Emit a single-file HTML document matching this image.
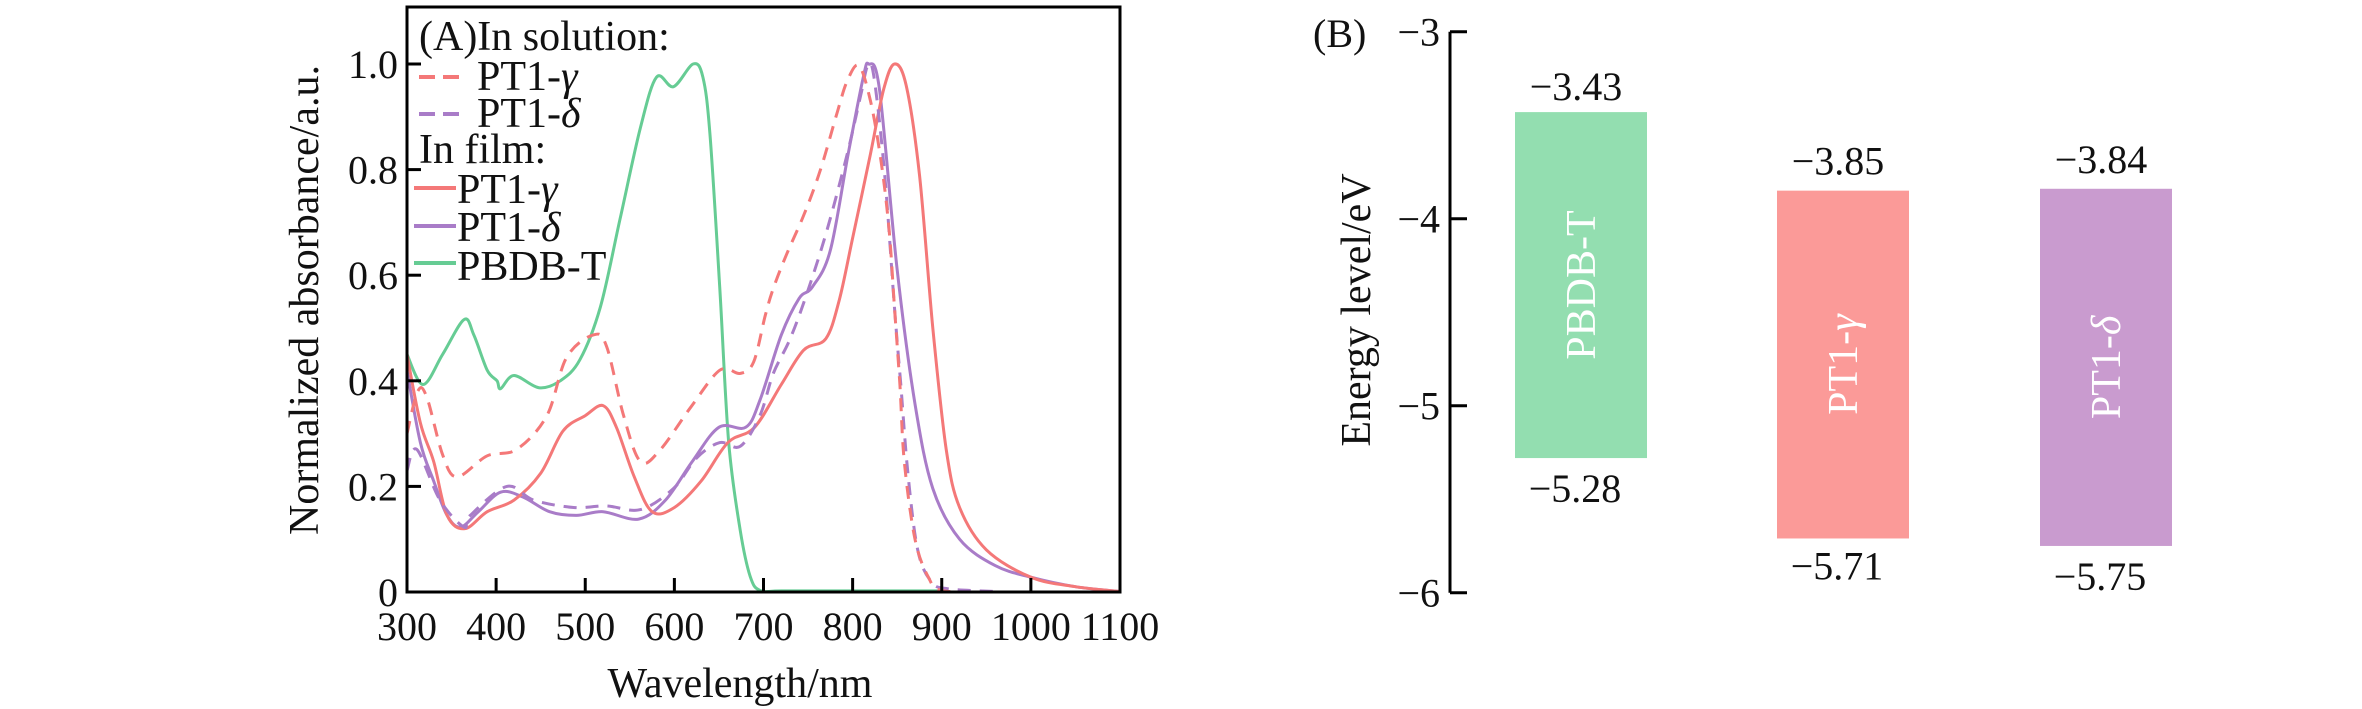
<!DOCTYPE html>
<html><head><meta charset="utf-8"><style>
html,body{margin:0;padding:0;background:#fff}
svg{display:block;font-family:"Liberation Serif","DejaVu Serif",serif}
svg text{font-family:"Liberation Serif","DejaVu Serif",serif;fill:#111}
</style></head><body>
<svg id="chart" width="2362" height="709" viewBox="0 0 2362 709" xmlns="http://www.w3.org/2000/svg" font-family="Liberation Serif, DejaVu Serif, serif">
<g id="panelA"></g>
<g id="panelB"></g>
</svg>
<script>
// ---- Panel A data ----
const xTicksA = [300,400,500,600,700,800,900,1000,1100];
const yTicksA = [0,0.2,0.4,0.6,0.8,1.0];
const yTickLabelsA = ["0","0.2","0.4","0.6","0.8","1.0"];
const pbdbX = [300,318,340,364,375,390,401,405,420,448,472,494,517,539,562,580,599,621,632,640,651,661,674,685,696,720,800,900];
const pbdbY = [0.45,0.393,0.45,0.516,0.487,0.42,0.40,0.385,0.41,0.387,0.40,0.44,0.54,0.706,0.88,0.975,0.957,1.0,0.975,0.866,0.575,0.283,0.116,0.03,0.003,0.002,0.002,0.002];
const solGX = [300,312,322,340,356,390,423,457,479,509,524,543,562,584,618,651,674,689,702,711,726,745,764,783,794,807,820,832,841,847,853,858,870,885,900,950];
const solGY = [0.30,0.38,0.37,0.26,0.218,0.258,0.27,0.334,0.444,0.487,0.465,0.334,0.247,0.269,0.349,0.42,0.414,0.436,0.524,0.575,0.64,0.713,0.80,0.91,0.968,0.997,0.93,0.815,0.684,0.538,0.393,0.247,0.10,0.028,0.003,0.0];
const solDX = [300,311,337,364,371,412,442,487,524,562,599,625,651,674,696,711,730,749,771,794,809,817,824,836,847,854,862,873,888,907,960];
const solDY = [0.23,0.27,0.174,0.123,0.145,0.20,0.174,0.16,0.163,0.156,0.196,0.254,0.283,0.276,0.334,0.414,0.48,0.567,0.684,0.83,0.94,0.997,0.975,0.79,0.538,0.393,0.225,0.08,0.02,0.006,0.001];
const filmGX = [300,315,330,345,365,390,420,450,475,500,520,535,555,575,600,630,660,690,720,745,770,785,800,820,835,847,860,875,890,905,920,950,1000,1050,1100];
const filmGY = [0.45,0.32,0.247,0.145,0.12,0.152,0.174,0.225,0.305,0.334,0.353,0.312,0.218,0.152,0.16,0.21,0.283,0.312,0.393,0.458,0.48,0.553,0.67,0.83,0.953,1.0,0.96,0.79,0.50,0.27,0.16,0.08,0.028,0.01,0.001];
const filmDX = [300,315,330,345,360,380,405,430,460,490,520,560,590,620,650,680,696,720,740,755,775,795,812,818,830,850,870,890,920,960,1000,1050,1100];
const filmDY = [0.42,0.283,0.21,0.145,0.123,0.152,0.189,0.18,0.152,0.145,0.152,0.138,0.174,0.247,0.312,0.312,0.363,0.487,0.556,0.578,0.647,0.83,0.975,1.0,0.953,0.61,0.356,0.196,0.10,0.05,0.028,0.01,0.001];

// ---- Panel B data ----
const materials = ["PBDB-T","PT1-γ","PT1-δ"];
const lumo = [-3.43,-3.85,-3.84];
const homo = [-5.28,-5.71,-5.75];
const yTicksB = [-3,-4,-5,-6];

const NS="http://www.w3.org/2000/svg";
function el(tag, attrs, parent, txt){
  const e=document.createElementNS(NS,tag);
  for(const k in attrs) e.setAttribute(k,attrs[k]);
  if(txt!==undefined) e.textContent=txt;
  parent.appendChild(e); return e;
}
const RED="#f47878", PUR="#a97cc8", GRN="#66cc94";

// Panel A
const A=document.getElementById('panelA');
const L=407,R=1120,T=7,B=592;
const xA=v=>L+(v-300)*(R-L)/800;
const yA=v=>B-v*528;
function smooth(xs,ys){
  const p=xs.map((x,i)=>[xA(x),yA(ys[i])]);
  let d=`M${p[0][0].toFixed(1)},${p[0][1].toFixed(1)}`;
  for(let i=0;i<p.length-1;i++){
    const p0=p[Math.max(0,i-1)],p1=p[i],p2=p[i+1],p3=p[Math.min(p.length-1,i+2)];
    const c1=[p1[0]+(p2[0]-p0[0])/6,p1[1]+(p2[1]-p0[1])/6];
    const c2=[p2[0]-(p3[0]-p1[0])/6,p2[1]-(p3[1]-p1[1])/6];
    d+=` C${c1[0].toFixed(1)},${c1[1].toFixed(1)} ${c2[0].toFixed(1)},${c2[1].toFixed(1)} ${p2[0].toFixed(1)},${p2[1].toFixed(1)}`;
  }
  return d;
}
let s;
s=el('path',{d:smooth(pbdbX,pbdbY),fill:'none',stroke:GRN,'stroke-width':3},A);


s=el('path',{d:smooth(filmDX,filmDY),fill:'none',stroke:PUR,'stroke-width':3},A);


s=el('path',{d:smooth(filmGX,filmGY),fill:'none',stroke:RED,'stroke-width':3},A);


s=el('path',{d:smooth(solDX,solDY),fill:'none',stroke:PUR,'stroke-width':3,'stroke-dasharray':'13 9'},A);


s=el('path',{d:smooth(solGX,solGY),fill:'none',stroke:RED,'stroke-width':3,'stroke-dasharray':'13 9'},A);



s=el('rect',{x:L,y:T,width:R-L,height:B-T,fill:'none',stroke:'#000','stroke-width':3},A);


xTicksA.forEach(v=>{
  const t=el('line',{x1:xA(v),x2:xA(v),y1:B,y2:B-14,stroke:'#000','stroke-width':3},A);
  
  
  const lb=el('text',{x:xA(v),y:640,'font-size':40,'text-anchor':'middle'},A,String(v));
  
  
});
yTicksA.forEach((v,i)=>{
  const t=el('line',{x1:L,x2:L+14,y1:yA(v),y2:yA(v),stroke:'#000','stroke-width':3},A);
  
  
  const lb=el('text',{x:398,y:yA(v)+14,'font-size':40,'text-anchor':'end'},A,yTickLabelsA[i]);
  
  
});
s=el('text',{x:740,y:697,'font-size':42,'text-anchor':'middle'},A,'Wavelength/nm');


s=el('text',{x:0,y:0,'font-size':42,'text-anchor':'middle',transform:'translate(318,300) rotate(-90)'},A,'Normalized absorbance/a.u.');



// Legend
const lg=el('g',{},A);


el('text',{x:419,y:50,'font-size':42},lg,'(A)In solution:');
el('text',{x:419,y:163,'font-size':42},lg,'In film:');
const legItems=[
 {y:77,c:RED,dash:true,t:'PT1-',g:'γ',x1:419,x2:467,tx:477,by:90,n:'legend-solution-pt1-gamma'},
 {y:114,c:PUR,dash:true,t:'PT1-',g:'δ',x1:419,x2:467,tx:477,by:127,n:'legend-solution-pt1-delta'},
 {y:188,c:RED,dash:false,t:'PT1-',g:'γ',x1:414,x2:456,tx:457,by:203,n:'legend-film-pt1-gamma'},
 {y:226,c:PUR,dash:false,t:'PT1-',g:'δ',x1:414,x2:456,tx:457,by:241,n:'legend-film-pt1-delta'},
 {y:263,c:GRN,dash:false,t:'PBDB-T',g:'',x1:414,x2:456,tx:457,by:280,n:'legend-film-pbdb-t'}
];
legItems.forEach(it=>{
  const g=el('g',{},lg);
  
  
  el('line',{x1:it.x1,x2:it.x2,y1:it.y,y2:it.y,stroke:it.c,'stroke-width':4,'stroke-dasharray':it.dash?'16 8':'none'},g);
  const tx=el('text',{x:it.tx,y:it.by,'font-size':42},g,it.t);
  if(it.g){el('tspan',{'font-style':'italic'},tx,it.g);}
});

// Panel B
const P=document.getElementById('panelB');
const AX=1450;
const yB=v=>31.7+(-3-v)*187;
const centers=[1581,1843,2106];
const cols=["#93deb0","#fb9a98","#c99bcf"];
const topOff=[12,16,16], botOff=[44,41,44];
s=el('line',{x1:AX,x2:AX,y1:yB(-3),y2:yB(-6),stroke:'#000','stroke-width':3},P);


yTicksB.forEach(v=>{
  const t=el('line',{x1:AX,x2:AX+17,y1:yB(v),y2:yB(v),stroke:'#000','stroke-width':3},P);
  
  
  const lb=el('text',{x:1440,y:yB(v)+14,'font-size':40,'text-anchor':'end'},P,'\u2212'+Math.abs(v));
  
  
});
s=el('text',{x:1313,y:47,'font-size':40},P,'(B)');


s=el('text',{x:0,y:0,'font-size':42,'text-anchor':'middle',transform:'translate(1370,310) rotate(-90)'},P,'Energy level/eV');


materials.forEach((m,i)=>{
  const cx=centers[i], yt=yB(lumo[i]), yb=yB(homo[i]);
  const r=el('rect',{x:cx-66,y:yt,width:132,height:yb-yt,fill:cols[i]},P);
  
  
  const lt=el('text',{x:cx-5,y:yt-topOff[i],'font-size':40,'text-anchor':'middle'},P,'\u2212'+Math.abs(lumo[i]).toFixed(2));
  
  
  const lb=el('text',{x:cx-6,y:yb+botOff[i],'font-size':40,'text-anchor':'middle'},P,'\u2212'+Math.abs(homo[i]).toFixed(2));
  
  
  const mid=(yt+yb)/2;
  const nm=el('text',{x:0,y:0,'font-size':42,'text-anchor':'middle',fill:'#fff',style:'fill:#fff',transform:`translate(${cx+14},${mid}) rotate(-90)`},P);
  
  
  if(m.startsWith('PT1-')){
    nm.appendChild(document.createTextNode('PT1-'));
    el('tspan',{'font-style':'italic'},nm,m.slice(4));
  } else nm.textContent=m;
});
</script>
</body></html>
